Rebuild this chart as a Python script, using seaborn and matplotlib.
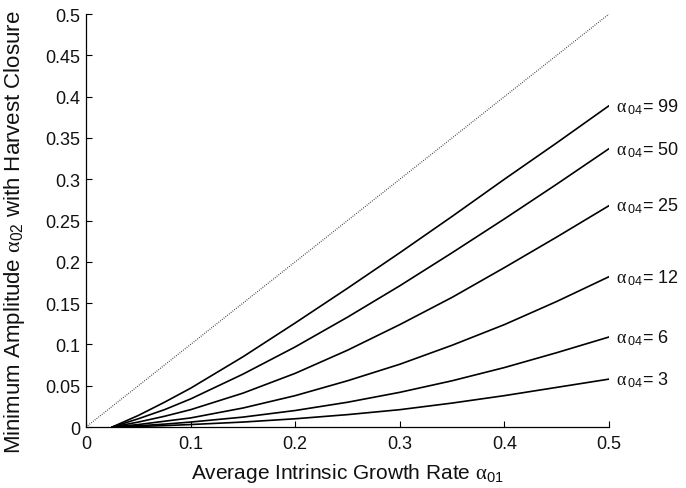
import numpy as np
import pandas as pd
import matplotlib
matplotlib.use("Agg")
import matplotlib.pyplot as plt
from matplotlib.ticker import FuncFormatter
import seaborn as sns

# readings taken off the reference curves
growth_rate = [0.025, 0.05, 0.075, 0.1, 0.15, 0.2, 0.25, 0.3, 0.35, 0.4, 0.45, 0.5]
amp_99 = [0.0, 0.014, 0.030, 0.047, 0.085, 0.126, 0.168, 0.211, 0.255, 0.300, 0.344, 0.389]
amp_50 = [0.0, 0.010, 0.021, 0.034, 0.064, 0.097, 0.133, 0.171, 0.211, 0.252, 0.294, 0.337]
amp_25 = [0.0, 0.006, 0.013, 0.021, 0.041, 0.065, 0.093, 0.124, 0.157, 0.193, 0.230, 0.268]
amp_12 = [0.0, 0.003, 0.007, 0.011, 0.023, 0.038, 0.056, 0.076, 0.099, 0.124, 0.152, 0.182]
amp_6 = [0.0, 0.0015, 0.0035, 0.006, 0.012, 0.020, 0.030, 0.042, 0.056, 0.072, 0.090, 0.109]
amp_3 = [0.0, 0.0007, 0.0017, 0.003, 0.006, 0.010, 0.015, 0.021, 0.029, 0.038, 0.048, 0.058]
alpha04 = [99, 50, 25, 12, 6, 3]
diag_x = [0.0, 0.5]

sns.set_theme(style="ticks")
plt.rcParams["font.family"] = ["Liberation Sans", "DejaVu Sans"]
plt.rcParams["mathtext.fontset"] = "custom"
plt.rcParams["mathtext.rm"] = "Liberation Sans"
plt.rcParams["mathtext.it"] = "Liberation Serif"
plt.rcParams["xtick.direction"] = "in"
plt.rcParams["ytick.direction"] = "in"

series = [amp_99, amp_50, amp_25, amp_12, amp_6, amp_3]
frames = []
for a, vals in zip(alpha04, series):
    frames.append(pd.DataFrame({"rate": growth_rate, "amp": vals, "alpha04": a}))
df = pd.concat(frames, ignore_index=True)

fig = plt.figure(figsize=(6.86, 4.89), dpi=100)
ax = fig.add_axes([0.1254, 0.1247, 0.7624, 0.8446])

sns.lineplot(x=diag_x, y=diag_x, ax=ax, color="#222222", lw=0.9,
             linestyle=(0, (0.6, 1.2)))
for a in alpha04:
    sub = df[df["alpha04"] == a]
    sns.lineplot(data=sub, x="rate", y="amp", ax=ax, color="black", lw=1.2,
                 estimator=None, sort=False)
    ax.annotate(r"$\alpha\,_{\rm 04}$= " + str(a), xy=(sub["rate"].iloc[-1], sub["amp"].iloc[-1]),
                xytext=(5, 0), textcoords="offset points", va="center", ha="left",
                fontsize=13, color="#111111", annotation_clip=False)

ax.set_xlim(0, 0.5)
ax.set_ylim(0, 0.5)
ax.set_xticks(np.arange(0, 0.51, 0.1))
ax.set_yticks(np.arange(0, 0.51, 0.05))
fmt = FuncFormatter(lambda v, p: "%g" % round(v, 3))
ax.xaxis.set_major_formatter(fmt)
ax.yaxis.set_major_formatter(fmt)
ax.tick_params(labelsize=13, length=4, width=0.8, colors="black", labelcolor="#111111")
ax.tick_params(axis="x", pad=6)
ax.tick_params(axis="y", pad=4)
for s in ["left", "bottom"]:
    ax.spines[s].set_linewidth(0.9)
    ax.spines[s].set_color("black")
sns.despine(ax=ax)

ax.set_xlabel(r"Average Intrinsic Growth Rate $\alpha_{\rm 01}$", fontsize=15, color="#111111", labelpad=6)
ax.set_ylabel(r"Minimum Amplitude $\alpha_{\rm 02}$ with Harvest Closure", fontsize=16, color="#111111")
ax.yaxis.set_label_coords(-0.112, 0.475)
if ax.get_legend() is not None:
    ax.get_legend().remove()

fig.savefig("out.png", dpi=100)
